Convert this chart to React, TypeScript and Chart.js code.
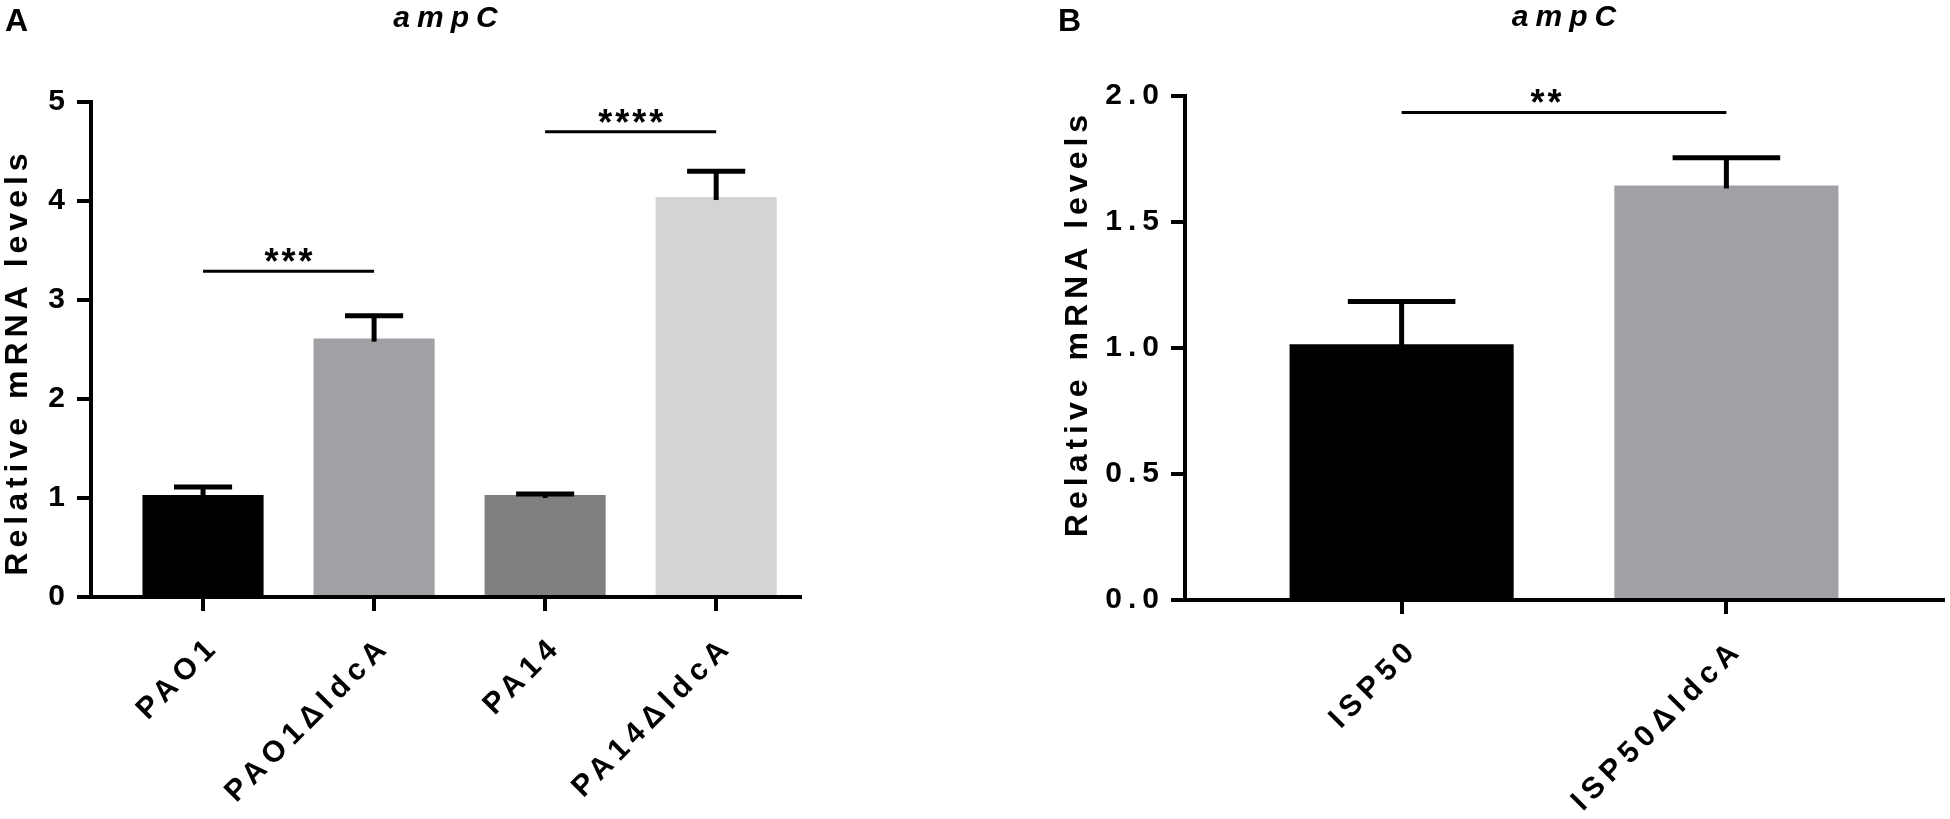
import React, { useEffect, useRef } from "react";
import { Chart, registerables } from "chart.js";

Chart.register(...registerables);

const FONT = "'Liberation Sans', Arial, Helvetica, sans-serif";

// ---------- Panel A data ----------
const categoriesA = ["PAO1", "PAO1ΔldcA", "PA14", "PA14ΔldcA"];
const valuesA = [1.03, 2.61, 1.03, 4.04];
const errorsA = [0.08, 0.23, 0.01, 0.26];
const colorsA = ["#000000", "#a1a1a5", "#7f807f", "#d4d4d4"];
const yTicksA = [0, 1, 2, 3, 4, 5];
const sigFromA = [0, 2];
const sigToA = [1, 3];
const sigLevelA = [3.29, 4.7];
const sigLabelA = ["***", "****"];

// ---------- Panel B data ----------
const categoriesB = ["ISP50", "ISP50ΔldcA"];
const valuesB = [1.015, 1.645];
const errorsB = [0.17, 0.11];
const colorsB = ["#000000", "#a1a1a5"];
const yTicksB = [0, 0.5, 1.0, 1.5, 2.0];
const sigFromB = [0];
const sigToB = [1];
const sigLevelB = [1.935];
const sigLabelB = ["**"];

type Panel = {
  letter: string;
  title: string;
  yTitle: string;
  categories: string[];
  values: number[];
  errors: number[];
  colors: string[];
  yTicks: number[];
  yDecimals: number;
  sigFrom: number[];
  sigTo: number[];
  sigLevel: number[];
  sigLabel: string[];
  canvasLeft: number;
  canvasWidth: number;
  area: { left: number; right: number; top: number; bottom: number };
  xMin: number;
  xMax: number;
  barPct: number;
  letterX: number;
  yTitleX: number;
  yTitleShift: number;
  titleY: number;
  starShift: number;
};

const HEIGHT = 819;

const panels: Panel[] = [
  {
    letter: "A",
    title: "ampC",
    yTitle: "Relative mRNA levels",
    categories: categoriesA,
    values: valuesA,
    errors: errorsA,
    colors: colorsA,
    yTicks: yTicksA,
    yDecimals: 0,
    sigFrom: sigFromA,
    sigTo: sigToA,
    sigLevel: sigLevelA,
    sigLabel: sigLabelA,
    canvasLeft: 0,
    canvasWidth: 900,
    area: { left: 91, right: 800, top: 102, bottom: 597 },
    xMin: 0.345,
    xMax: 4.49,
    barPct: 0.708,
    letterX: 5,
    yTitleX: 15,
    yTitleShift: 15,
    titleY: 20,
    starShift: 0,
  },
  {
    letter: "B",
    title: "ampC",
    yTitle: "Relative mRNA levels",
    categories: categoriesB,
    values: valuesB,
    errors: errorsB,
    colors: colorsB,
    yTicks: yTicksB,
    yDecimals: 1,
    sigFrom: sigFromB,
    sigTo: sigToB,
    sigLevel: sigLevelB,
    sigLabel: sigLabelB,
    canvasLeft: 900,
    canvasWidth: 1050,
    area: { left: 285, right: 1043, top: 96, bottom: 600 },
    xMin: 0.333,
    xMax: 2.667,
    barPct: 0.69,
    letterX: 158,
    yTitleX: 175,
    yTitleShift: -22,
    titleY: 19,
    starShift: -18,
  },
];

function drawCenteredText(
  ctx: CanvasRenderingContext2D,
  text: string,
  cx: number,
  cy: number,
  spacing: number
) {
  ctx.letterSpacing = spacing + "px";
  ctx.textAlign = "left";
  ctx.textBaseline = "alphabetic";
  const m = ctx.measureText(text);
  const w = m.width - spacing;
  const asc = m.actualBoundingBoxAscent;
  const desc = m.actualBoundingBoxDescent;
  ctx.fillText(text, cx - w / 2, cy + (asc - desc) / 2);
}

function makeDecor(p: Panel) {
  return {
    id: "panelDecor",
    beforeDraw(chart: any) {
      chart.ctx.letterSpacing = "6px";
    },
    afterDatasetsDraw(chart: any) {
      const ctx: CanvasRenderingContext2D = chart.ctx;
      const xs = chart.scales.x;
      const ys = chart.scales.y;
      const meta = chart.getDatasetMeta(0);
      ctx.save();
      ctx.strokeStyle = "#000";
      ctx.fillStyle = "#000";
      ctx.lineCap = "butt";
      meta.data.forEach((el: any, i: number) => {
        const top = ys.getPixelForValue(p.values[i] + p.errors[i]);
        const half = el.width * 0.24;
        ctx.lineWidth = 5;
        ctx.beginPath();
        ctx.moveTo(el.x, el.y + 3);
        ctx.lineTo(el.x, top);
        ctx.stroke();
        ctx.beginPath();
        ctx.moveTo(el.x - half, top);
        ctx.lineTo(el.x + half, top);
        ctx.stroke();
      });
      p.sigLevel.forEach((lvl, k) => {
        const x1 = xs.getPixelForValue(p.sigFrom[k] + 1);
        const x2 = xs.getPixelForValue(p.sigTo[k] + 1);
        const y = ys.getPixelForValue(lvl);
        ctx.lineWidth = 3;
        ctx.beginPath();
        ctx.moveTo(x1, y);
        ctx.lineTo(x2, y);
        ctx.stroke();
        ctx.font = `bold 36px ${FONT}`;
        drawCenteredText(ctx, p.sigLabel[k], (x1 + x2) / 2 + p.starShift, y - 16, 3);
      });
      ctx.restore();
    },
    afterDraw(chart: any) {
      const ctx: CanvasRenderingContext2D = chart.ctx;
      const a = chart.chartArea;
      ctx.save();
      ctx.fillStyle = "#000";
      ctx.font = `bold 32px ${FONT}`;
      ctx.letterSpacing = "0px";
      ctx.textAlign = "left";
      ctx.textBaseline = "alphabetic";
      ctx.fillText(p.letter, p.letterX, 31);
      ctx.font = `italic bold 30px ${FONT}`;
      drawCenteredText(ctx, p.title, (a.left + a.right) / 2, p.titleY, 7);
      ctx.save();
      ctx.translate(p.yTitleX, (a.top + a.bottom) / 2 + p.yTitleShift);
      ctx.rotate(-Math.PI / 2);
      ctx.font = `bold 32px ${FONT}`;
      drawCenteredText(ctx, p.yTitle, 0, 0, 5);
      ctx.restore();
      ctx.restore();
    },
  };
}

function PanelChart({ p }: { p: Panel }) {
  const ref = useRef<HTMLCanvasElement | null>(null);
  useEffect(() => {
    if (!ref.current) return;
    const tickFont = { family: FONT, size: 30, weight: "bold" as const };
    const chart = new Chart(ref.current, {
      type: "bar",
      data: {
        datasets: [
          {
            data: p.values.map((v, i) => ({ x: i + 1, y: v })),
            backgroundColor: p.colors,
            borderWidth: 0,
            categoryPercentage: 1,
            barPercentage: p.barPct,
          },
        ],
      },
      options: {
        responsive: false,
        animation: false,
        devicePixelRatio: 1,
        layout: {
          padding: {
            left: 0,
            top: p.area.top,
            right: p.canvasWidth - p.area.right,
            bottom: 0,
          },
        },
        plugins: {
          legend: { display: false },
          tooltip: { enabled: false },
          title: { display: false },
        },
        scales: {
          x: {
            type: "linear",
            min: p.xMin,
            max: p.xMax,
            offset: false,
            afterBuildTicks: (s: any) => {
              s.ticks = p.categories.map((_, i) => ({ value: i + 1 }));
            },
            afterFit: (s: any) => {
              s.height = HEIGHT - p.area.bottom;
            },
            ticks: {
              autoSkip: false,
              minRotation: 45,
              maxRotation: 45,
              padding: 18,
              labelOffset: 12,
              color: "#000",
              font: tickFont,
              callback: (v: any) => p.categories[Math.round(Number(v)) - 1] ?? "",
            },
            grid: {
              offset: false,
              drawOnChartArea: false,
              drawTicks: true,
              tickLength: 14,
              lineWidth: 4,
              color: "#000",
            },
            border: { display: true, width: 4, color: "#000" },
          },
          y: {
            min: 0,
            max: p.yTicks[p.yTicks.length - 1],
            afterBuildTicks: (s: any) => {
              s.ticks = p.yTicks.map((v) => ({ value: v }));
            },
            afterFit: (s: any) => {
              s.width = p.area.left;
            },
            ticks: {
              padding: 6,
              color: "#000",
              font: tickFont,
              callback: (v: any) => Number(v).toFixed(p.yDecimals),
            },
            grid: {
              offset: false,
              drawOnChartArea: false,
              drawTicks: true,
              tickLength: 14,
              lineWidth: 4,
              color: "#000",
            },
            border: { display: true, width: 4, color: "#000" },
          },
        },
      } as any,
      plugins: [makeDecor(p)],
    });
    return () => chart.destroy();
  }, [p]);
  return (
    <canvas
      ref={ref}
      width={p.canvasWidth}
      height={HEIGHT}
      style={{
        position: "absolute",
        left: p.canvasLeft,
        top: 0,
        width: p.canvasWidth,
        height: HEIGHT,
      }}
    />
  );
}

export default function App() {
  return (
    <div
      style={{
        position: "fixed",
        left: 0,
        top: 0,
        width: 1950,
        height: HEIGHT,
        background: "#ffffff",
        overflow: "hidden",
      }}
    >
      {panels.map((p) => (
        <PanelChart key={p.letter} p={p} />
      ))}
    </div>
  );
}
